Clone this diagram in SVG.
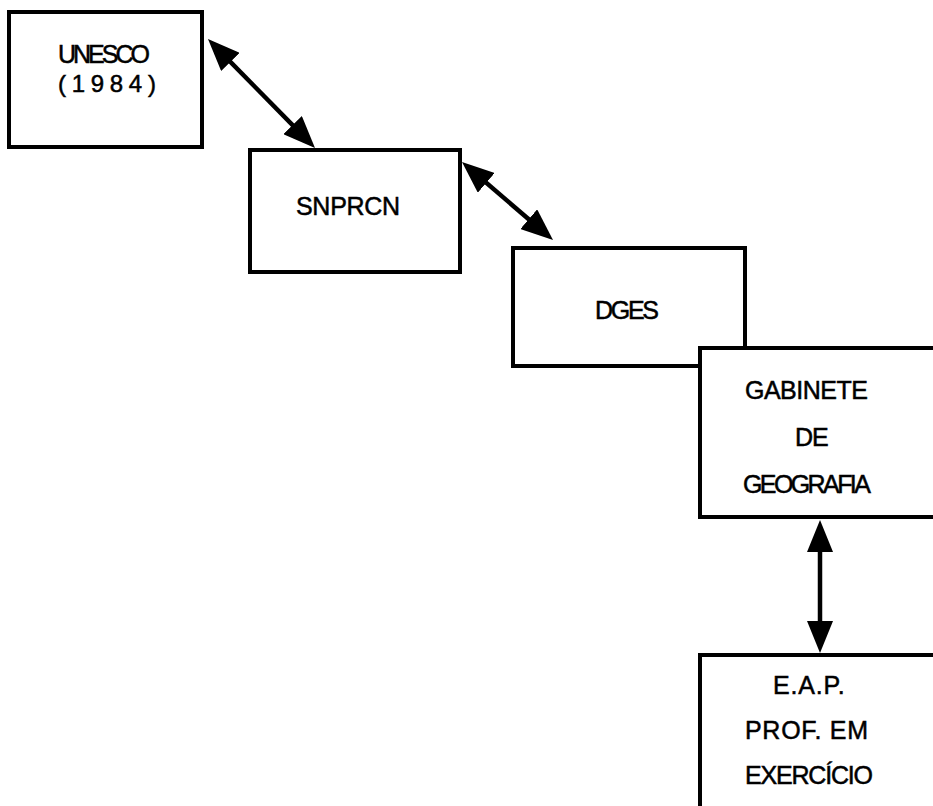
<svg xmlns="http://www.w3.org/2000/svg" width="933" height="806" viewBox="0 0 933 806">
  <style>
    .box { fill: #ffffff; stroke: #000000; stroke-width: 4; }
    .lbl { font-family: "Liberation Sans", Arial, sans-serif; font-size: 25px; fill: #000000; stroke: #000000; stroke-width: 0.5; }
    .conn { stroke: #000000; stroke-width: 4.5; fill: none; marker-start: url(#ah); marker-end: url(#ah); }
  </style>
  <defs>
    <marker id="ah" markerUnits="userSpaceOnUse" markerWidth="32" markerHeight="26" refX="20" refY="13" orient="auto-start-reverse" viewBox="0 0 32 26">
      <path d="M0,0 L32,13 L0,26 z" fill="#000000"/>
    </marker>
  </defs>
  <rect x="0" y="0" width="933" height="806" fill="#ffffff"/>

  <g id="node-unesco">
    <rect class="box" x="9" y="12" width="193" height="135"/>
    <text class="lbl" x="58" y="63" letter-spacing="-3">UNESCO</text>
    <text class="lbl" x="58" y="92" letter-spacing="5.7" style="font-size:24px">(1984)</text>
  </g>

  <g id="node-snprcn">
    <rect class="box" x="250" y="150" width="210" height="122"/>
    <text class="lbl" x="296" y="215" letter-spacing="-0.3">SNPRCN</text>
  </g>

  <g id="node-dges">
    <rect class="box" x="513" y="248" width="232" height="118"/>
    <text class="lbl" x="595" y="319" letter-spacing="-2.3">DGES</text>
  </g>

  <g id="node-gabinete">
    <rect class="box" x="700" y="348" width="250" height="169"/>
    <text class="lbl" x="745" y="399" letter-spacing="-0.5">GABINETE</text>
    <text class="lbl" x="795" y="446" letter-spacing="-1">DE</text>
    <text class="lbl" x="743" y="493" letter-spacing="-2.6">GEOGRAFIA</text>
  </g>

  <g id="node-eap">
    <rect class="box" x="700" y="655" width="250" height="170"/>
    <text class="lbl" x="773" y="694" letter-spacing="0.8">E.A.P.</text>
    <text class="lbl" x="745" y="739" letter-spacing="0.7">PROF. EM</text>
    <text class="lbl" x="745" y="784" letter-spacing="-1.2">EXERCÍCIO</text>
  </g>

  <g id="connectors">
    <line class="conn" x1="216.4" y1="47.6" x2="306.6" y2="139.4"/>
    <line class="conn" x1="471.1" y1="169.8" x2="543.9" y2="232.2"/>
    <line class="conn" x1="820" y1="532" x2="820" y2="641"/>
  </g>
</svg>
